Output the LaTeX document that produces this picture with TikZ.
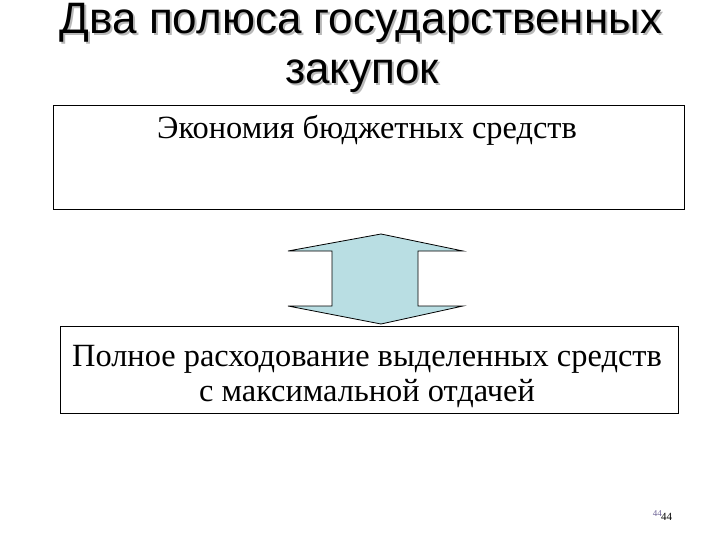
\documentclass[tikz,border=0pt]{standalone}
\usepackage{fontspec}
\setmainfont{Liberation Serif}
\newfontfamily\titlefont{Liberation Sans}
\definecolor{arrowblue}{RGB}{185,222,227}
\definecolor{shadowgray}{RGB}{185,185,185}
\definecolor{pagenum}{RGB}{110,100,150}
\begin{document}
\begin{tikzpicture}[x=1pt, y=-1pt,
	titletext/.style={font=\titlefont\fontsize{44}{44}\selectfont, inner sep=0pt, anchor=base},
	polebox/.style={draw, line width=0.9pt},
	boxtext/.style={font=\fontsize{32.4}{36}\selectfont, inner sep=0pt, anchor=base, align=center}]
	\useasboundingbox[fill=white] (0,0) rectangle (720,540);
	%title with shadow
		\node[titletext, shadowgray] (shadowA) at (363,36){Два полюса государственных};
		\node[titletext, shadowgray] (shadowB) at (364,86){закупок};
		\node[titletext] (titleA) at (361,34){Два полюса государственных};
		\node[titletext] (titleB) at (362,84){закупок};
	%upper pole
		\draw[polebox] (53,105) rectangle (684,209);
		\node[boxtext] (economy) at (367,139){Экономия бюджетных средств};
	%lower pole
		\draw[polebox] (60,326) rectangle (678,413);
		\node[boxtext] (spendA) at (367,366){Полное расходование выделенных средств};
		\node[boxtext] (spendB) at (367,401){с максимальной отдачей};
	%double arrow
		\draw[fill=arrowblue, line width=0.8pt, line join=miter]
			(381,234) -- (463,251) -- (418,251) -- (418,306) -- (463,306)
			-- (381,324) -- (288,306) -- (332,306) -- (332,251) -- (288,251) -- cycle;
	%slide number
		\node[font=\fontsize{9}{9}\selectfont, pagenum, inner sep=0pt, anchor=east] (numsmall) at (662,514){44};
		\node[font=\fontsize{11}{11}\selectfont, inner sep=0pt, anchor=west] (numbig) at (661,517){44};
\end{tikzpicture}
\end{document}
